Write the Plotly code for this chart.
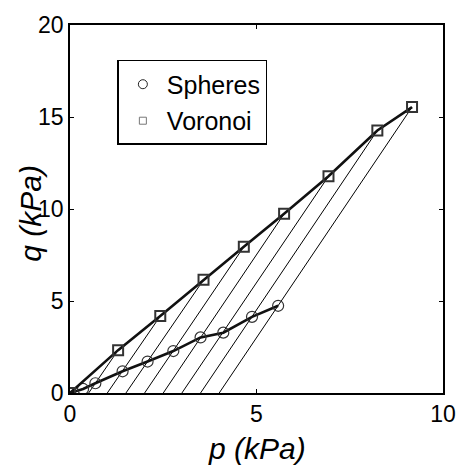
import plotly.graph_objects as go

# Data
voronoi_p = [0.0, 1.29, 2.42, 3.58, 4.66, 5.74, 6.93, 8.24, 9.17]
voronoi_q = [0.0, 2.33, 4.18, 6.15, 7.95, 9.74, 11.78, 14.27, 15.54]
spheres_p = [0.0, 0.35, 0.68, 1.41, 2.08, 2.77, 3.50, 4.11, 4.88, 5.58]
spheres_q = [0.0, 0.22, 0.53, 1.18, 1.71, 2.28, 3.02, 3.28, 4.14, 4.74]
# stress paths: start on p axis, end at Voronoi points
path_start_p = [0.5, 1.0, 1.5, 2.0, 2.5, 3.0, 3.5, 4.0]
path_end_p = voronoi_p[1:]
path_end_q = voronoi_q[1:]

px, py = [], []
for p0, p1, q1 in zip(path_start_p, path_end_p, path_end_q):
    px += [p0, p1, None]
    py += [0, q1, None]

FONT = "Liberation Sans, Arial"

fig = go.Figure()
fig.add_trace(go.Scatter(x=px, y=py, mode="lines",
                         line=dict(color="black", width=1), showlegend=False,
                         hoverinfo="skip"))
fig.add_trace(go.Scatter(x=spheres_p, y=spheres_q, mode="lines+markers",
                         line=dict(color="#111", width=2.6),
                         marker=dict(symbol="circle-open", size=11,
                                     color="#333", line=dict(width=1.2)),
                         showlegend=False))
fig.add_trace(go.Scatter(x=voronoi_p, y=voronoi_q, mode="lines+markers",
                         line=dict(color="#111", width=2.6),
                         marker=dict(symbol="square-open", size=10,
                                     color="#333", line=dict(width=2)),
                         showlegend=False))
# legend entries (small markers)
fig.add_trace(go.Scatter(x=[None], y=[None], mode="markers", name="Spheres",
                         legendgroup="a",
                         marker=dict(symbol="circle-open", size=9, color="#222",
                                     line=dict(width=1))))
fig.add_trace(go.Scatter(x=[None], y=[None], mode="markers", name="Voronoi",
                         legendgroup="b",
                         marker=dict(symbol="square-open", size=7, color="#777",
                                     line=dict(width=1))))

axis_common = dict(showline=True, linecolor="black", linewidth=1.5,
                   mirror="ticks", ticks="inside", ticklen=4,
                   tickcolor="black", tickwidth=1, showgrid=False,
                   zeroline=False,
                   tickfont=dict(family=FONT, size=23, color="black"))
fig.update_xaxes(range=[0, 10], tickvals=[0, 5, 10], **axis_common)
fig.update_yaxes(range=[0, 20], tickvals=[0, 5, 10, 15, 20], **axis_common)

title_font = dict(family=FONT, size=30, color="black", style="italic")
fig.add_annotation(text="p (kPa)", xref="paper", yref="paper",
                   x=0.5, y=-0.152, xanchor="center", yanchor="middle",
                   showarrow=False, font=title_font)
fig.add_annotation(text="q (kPa)", xref="paper", yref="paper",
                   x=-0.108, y=0.489, xanchor="center", yanchor="middle",
                   textangle=-90, showarrow=False, font=title_font)

fig.update_layout(
    width=468, height=472,
    margin=dict(l=70, r=19, t=15, b=79),
    plot_bgcolor="white", paper_bgcolor="white",
    legend=dict(x=0.127, y=0.905, xanchor="left", yanchor="top",
                bordercolor="black", borderwidth=1.5, bgcolor="white",
                tracegroupgap=1, itemwidth=38,
                font=dict(family=FONT, size=25, color="black")),
)
fig.write_html("out.html")
